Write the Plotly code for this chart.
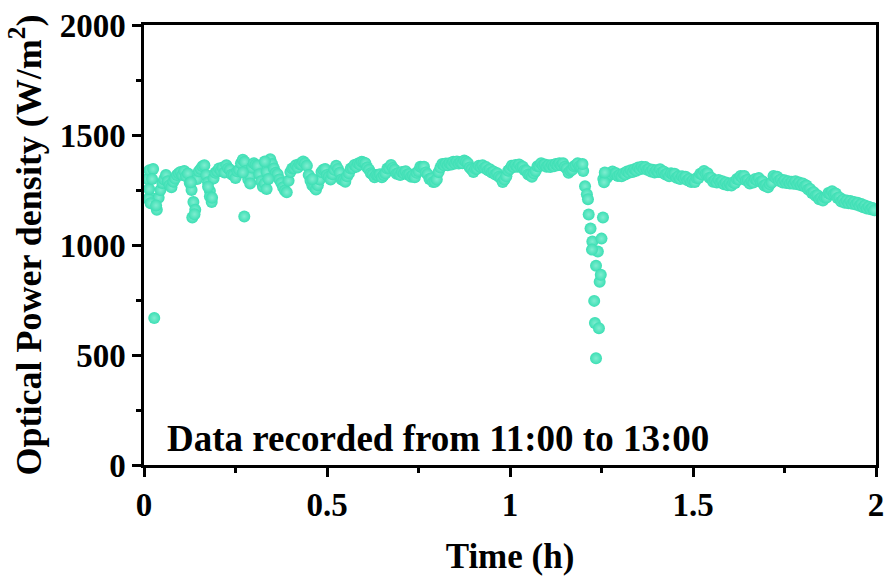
import numpy as np
import plotly.graph_objects as go

# Logged optical power density, one sample every 0.005 h starting at 0.01 h
sample_start_h = 0.01
sample_step_h = 0.005
power_wm2 = [
    1300, 1340, 1215, 1345, 1200, 1160, 1215, 1250, 1282, 1298, 1318, 1290, 1272, 1262, 1288, 1302, 1318, 1326,
    1332, 1318, 1336, 1312, 1325, 1282, 1250, 1195, 1160, 1300, 1335, 1345, 1358, 1362, 1318, 1285, 1245, 1195, 1302, 1328,
    1335, 1348, 1338, 1352, 1330, 1362, 1348, 1342, 1320, 1318, 1305, 1335, 1342, 1372, 1388, 1378, 1338, 1298, 1315, 1352,
    1372, 1365, 1360, 1322, 1290, 1265, 1280, 1332, 1378, 1390, 1368, 1348, 1328, 1322, 1298, 1282, 1262, 1248, 1240, 1292,
    1332, 1348, 1350, 1362, 1352, 1368, 1366, 1380, 1372, 1360, 1318, 1292, 1272, 1264, 1252, 1272, 1298, 1332, 1342, 1345,
    1318, 1310, 1298, 1322, 1342, 1360, 1346, 1328, 1298, 1294, 1288, 1312, 1326, 1348, 1350, 1364, 1356, 1370, 1366, 1378,
    1375, 1372, 1352, 1342, 1326, 1320, 1308, 1318, 1316, 1322, 1308, 1318, 1326, 1348, 1350, 1364, 1350, 1342, 1324, 1326,
    1318, 1332, 1326, 1335, 1320, 1322, 1310, 1316, 1308, 1328, 1336, 1356, 1354, 1356, 1330, 1322, 1300, 1302, 1286, 1288,
    1298, 1332, 1352, 1368, 1362, 1370, 1362, 1372, 1366, 1378, 1370, 1380, 1370, 1376, 1372, 1384, 1378, 1372, 1352, 1344,
    1332, 1346, 1346, 1360, 1355, 1362, 1350, 1354, 1340, 1344, 1330, 1334, 1320, 1326, 1310, 1304, 1286, 1298, 1312, 1338,
    1346, 1360, 1354, 1364, 1356, 1366, 1354, 1356, 1340, 1338, 1320, 1318, 1310, 1326, 1336, 1358, 1358, 1372, 1362, 1366,
    1356, 1362, 1354, 1364, 1358, 1368, 1362, 1372, 1362, 1372, 1356, 1348, 1328, 1338, 1342, 1358, 1362, 1372, 1358, 1352,
    1336, 1267, 1231, 1139, 1075, 1016, 746, 485, 970, 833, 1029, 1300, 1322, 1306, 1318, 1322, 1334, 1324, 1326, 1314,
    1318, 1312, 1325, 1320, 1334, 1328, 1340, 1332, 1344, 1338, 1352, 1344, 1356, 1348, 1354, 1342, 1346, 1334, 1342, 1330,
    1340, 1332, 1344, 1330, 1334, 1320, 1324, 1312, 1326, 1322, 1324, 1306, 1312, 1300, 1312, 1304, 1310, 1294, 1300, 1286,
    1294, 1286, 1304, 1304, 1324, 1322, 1336, 1324, 1326, 1306, 1306, 1288, 1294, 1284, 1296, 1284, 1290, 1276, 1284, 1272,
    1280, 1270, 1284, 1282, 1300, 1298, 1314, 1306, 1314, 1294, 1296, 1280, 1290, 1284, 1300, 1294, 1304, 1288, 1290, 1270,
    1274, 1262, 1276, 1284, 1314, 1306, 1310, 1292, 1298, 1284, 1294, 1282, 1290, 1280, 1288, 1278, 1290, 1276, 1284, 1272,
    1280, 1266, 1270, 1252, 1255, 1236, 1240, 1224, 1226, 1208, 1214, 1202, 1216, 1216, 1236, 1232, 1244, 1232, 1234, 1214,
    1216, 1198, 1206, 1192, 1202, 1190, 1200, 1188, 1196, 1184, 1192, 1178, 1186, 1172, 1180, 1166, 1174, 1162, 1168, 1158,
]

# Additional readings logged between the regular samples (fast fluctuations)
extra_time_h = [0.012, 0.014, 0.018, 0.022, 0.028, 0.033, 0.132, 0.138, 0.128, 0.180, 0.186, 0.175,
                0.274, 0.270, 0.290, 0.335, 0.340, 0.330, 0.460,
                1.198, 1.213, 1.224, 1.232, 1.235, 1.243, 1.248, 1.254, 1.257, 1.259]
extra_power_wm2 = [1210, 1255, 1190, 1300, 668, 1180, 1125, 1140, 1285, 1220, 1215, 1265,
                   1130, 1330, 1280, 1255, 1300, 1380, 1300,
                   1368, 1208, 979, 645, 906, 622, 865, 1125, 1285, 1330]

time_h = sample_start_h + sample_step_h * np.arange(len(power_wm2))
all_time = np.concatenate([time_h, extra_time_h])
all_power = np.concatenate([power_wm2, extra_power_wm2])

font_family = "Liberation Serif, Times New Roman, serif"

fig = go.Figure()
fig.add_trace(go.Scatter(
    x=all_time, y=all_power, mode="markers",
    marker=dict(size=12, color="#3cdfb4",
                gradient=dict(type="radial", color="#7fedd0"),
                line=dict(width=0)),
    showlegend=False,
))

axis_common = dict(
    showline=True, linecolor="black", linewidth=2.5, mirror=True,
    ticks="outside", ticklen=9, tickwidth=2.5, tickcolor="black",
    showgrid=False, zeroline=False,
    tickfont=dict(family=font_family, size=33, color="black", weight="bold"),
    minor=dict(ticks="outside", ticklen=5, tickwidth=2.5, tickcolor="black"),
)

fig.update_xaxes(
    range=[0, 2], dtick=0.5, minor_dtick=0.25,
    title=dict(text="Time (h)", standoff=22,
               font=dict(family=font_family, size=35, color="black", weight="bold")),
    **axis_common,
)
fig.update_yaxes(
    range=[0, 2000], dtick=500, minor_dtick=250,
    title=dict(text="Optical Power density (W/m<sup>2</sup>)", standoff=8,
               font=dict(family=font_family, size=36, color="black", weight="bold")),
    **axis_common,
)

fig.add_annotation(
    x=0.057, y=120, xref="x", yref="y", xanchor="left", yanchor="middle",
    text="Data recorded from 11:00 to 13:00", showarrow=False,
    font=dict(family=font_family, size=37, color="black", weight="bold"),
)

fig.update_layout(
    width=888, height=581,
    margin=dict(l=144, r=12, t=25, b=116, autoexpand=False),
    plot_bgcolor="white", paper_bgcolor="white",
)

fig.write_html("out.html")
